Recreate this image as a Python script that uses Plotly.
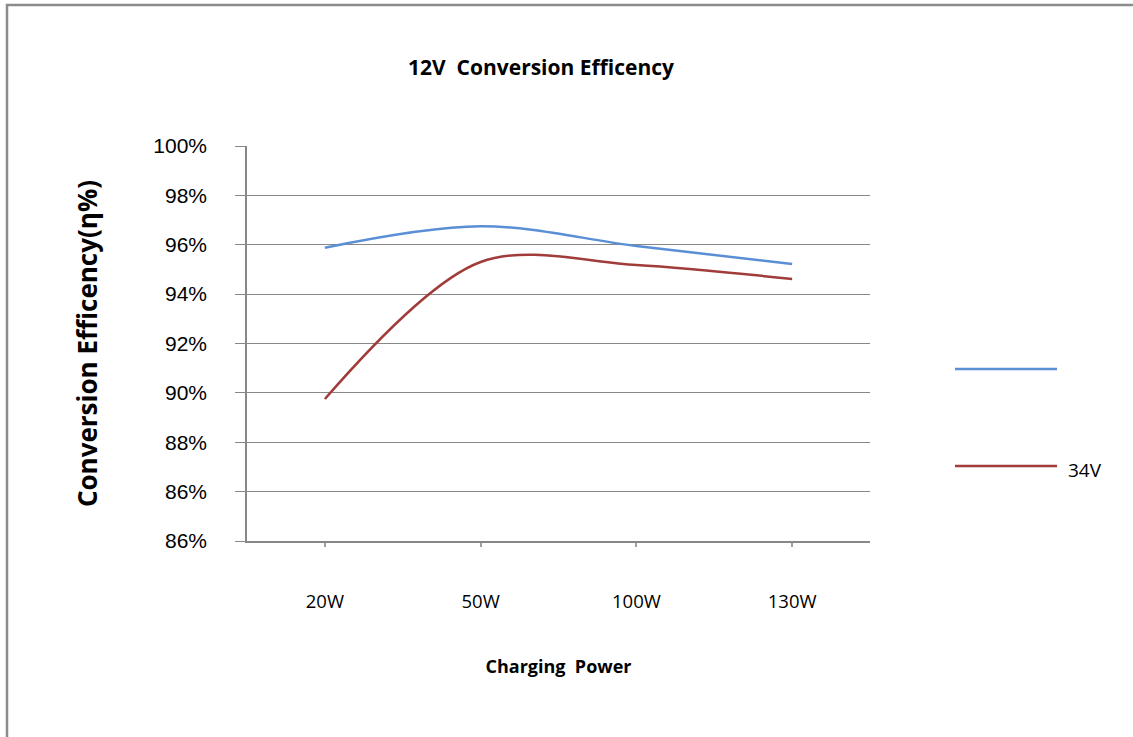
import plotly.graph_objects as go

# ---- data ----
categories = ["20W", "50W", "100W", "130W"]
series_unnamed = [95.88, 96.75, 95.95, 95.22]
series_34v = [89.75, 95.30, 95.18, 94.61]
y_tick_vals = [84, 86, 88, 90, 92, 94, 96, 98, 100]
y_tick_text = ["86%", "86%", "88%", "90%", "92%", "94%", "96%", "98%", "100%"]

W, H = 1133, 737
L, R, T, B = 247, 870, 146, 541  # plot area in pixels


def px(x):
    return (x - L) / (R - L)


def py(y):
    return (B - y) / (B - T)


BLUE = "#5a8fd6"
RED = "#a13c3a"
GRID = "#878787"
CAL = "Open Sans, Arial, sans-serif"

fig = go.Figure()
fig.add_trace(go.Scatter(x=categories, y=series_unnamed, mode="lines", name="",
                         line=dict(color=BLUE, width=2.5, shape="spline", smoothing=1),
                         showlegend=False))
fig.add_trace(go.Scatter(x=categories, y=series_34v, mode="lines", name="34V",
                         line=dict(color=RED, width=2.5, shape="spline", smoothing=0.95),
                         showlegend=False))

shapes = [
    # outer frame (left and top edges visible)
    dict(type="rect", xref="paper", yref="paper", x0=px(7), x1=px(1145), y0=py(5), y1=py(750),
         line=dict(color="#8c8c8c", width=2.5), fillcolor="rgba(0,0,0,0)", layer="below"),
    # legend lines
    dict(type="line", xref="paper", yref="paper", x0=px(955), x1=px(1057), y0=py(369), y1=py(369),
         line=dict(color=BLUE, width=2.5)),
    dict(type="line", xref="paper", yref="paper", x0=px(955), x1=px(1057), y0=py(466), y1=py(466),
         line=dict(color=RED, width=2.5)),
]

annotations = [
    dict(text="34V", xref="paper", yref="paper", x=px(1066), y=py(470), xanchor="left",
         yanchor="middle", showarrow=False, font=dict(family=CAL, size=19, color="#000")),
]

fig.update_layout(
    width=W, height=H,
    margin=dict(l=L, r=W - R, t=T, b=H - B),
    paper_bgcolor="white", plot_bgcolor="white",
    title=dict(text="<b>12V  Conversion Efficency</b>", x=541 / W, xanchor="center",
               y=1 - 68 / H, yanchor="middle", xref="container", yref="container",
               font=dict(family=CAL, size=21, color="#000")),
    shapes=shapes, annotations=annotations,
    showlegend=False,
)

fig.update_xaxes(
    type="category", range=[-0.5, 3.5],
    showline=True, linecolor=GRID, linewidth=1.5, mirror=False,
    showgrid=False, ticks="outside", ticklen=4, tickcolor="#a0a0a0", tickwidth=2,
    tickfont=dict(family=CAL, size=18.5, color="#000"), ticklabelstandoff=39,
    title=dict(text="<b>Charging  Power</b>", standoff=48,
               font=dict(family=CAL, size=18, color="#000")),
)
fig.update_yaxes(
    range=[84, 100], tickvals=y_tick_vals, ticktext=y_tick_text,
    showline=True, linecolor=GRID, linewidth=1.5,
    showgrid=True, gridcolor=GRID, gridwidth=1,
    ticks="outside", ticklen=10, tickcolor=GRID,
    tickfont=dict(family="Liberation Sans, Arial, sans-serif", size=21, color="#000"),
    ticklabelstandoff=24,
    title=dict(text="<b>Conversion Efficency(η%)</b>", standoff=48,
               font=dict(family=CAL, size=26, color="#000")),
    zeroline=False,
)

fig.write_html("out.html", config={"displayModeBar": False},
               post_script="document.body.style.margin='0';")
